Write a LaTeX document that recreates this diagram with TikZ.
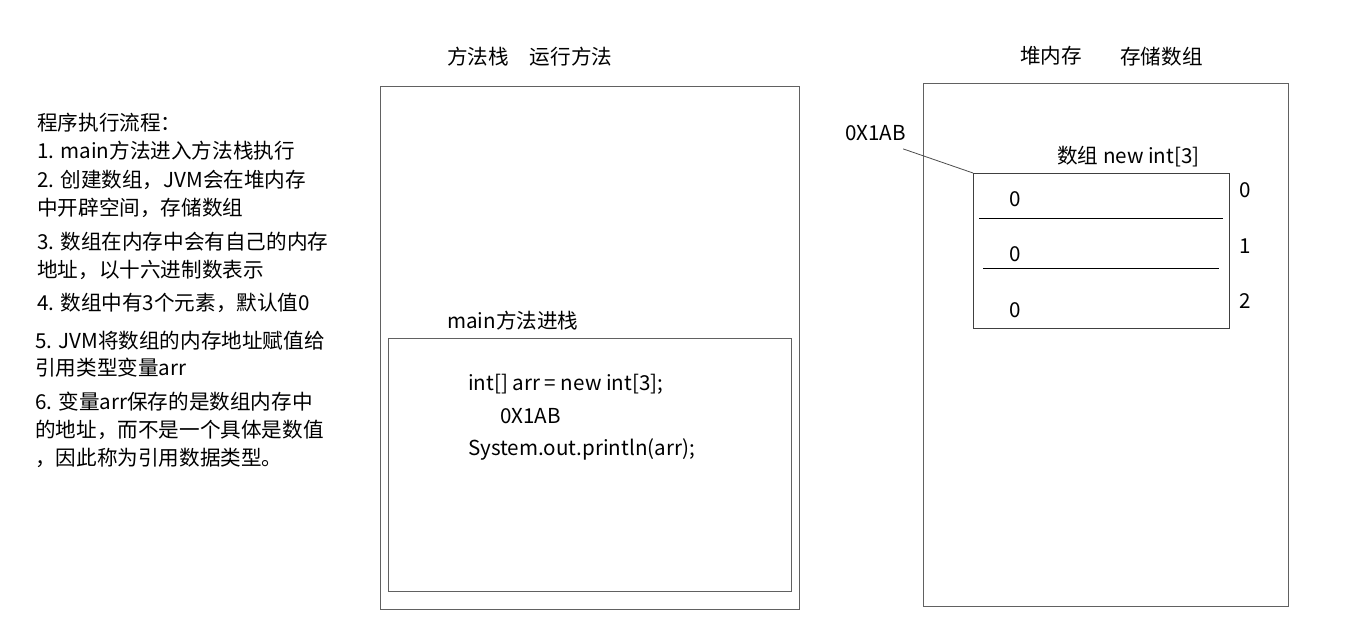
\documentclass[tikz,border=0pt]{standalone}
\usepackage{fontspec}
\setmainfont{Noto Sans CJK SC}
\begin{document}
\begin{tikzpicture}[x=1pt,y=-1pt,
    box/.style={draw=black!62,line width=1.3pt,inner sep=0pt,anchor=north west},
    txt/.style={font=\fontsize{20.6}{24}\selectfont,inner sep=0pt,text=black},
    note/.style={txt,anchor=west}
  ]
  \useasboundingbox (0,0) rectangle (1370,623);
  % notes on the left
  \node[note] (n0)  at (37,123) {程序执行流程：};
  \node[note] (n1)  at (37,151) {1. main方法进入方法栈执行};
  \node[note] (n2a) at (37,180) {2. 创建数组，JVM会在堆内存};
  \node[note] (n2b) at (37,208) {中开辟空间，存储数组};
  \node[note] (n3a) at (37,242) {3. 数组在内存中会有自己的内存};
  \node[note] (n3b) at (37,270) {地址，以十六进制数表示};
  \node[note] (n4)  at (37,303) {4. 数组中有3个元素，默认值0};
  \node[note] (n5a) at (35,341) {5. JVM将数组的内存地址赋值给};
  \node[note] (n5b) at (35,368) {引用类型变量arr};
  \node[note] (n6a) at (35,402) {6. 变量arr保存的是数组内存中};
  \node[note] (n6b) at (35,430) {的地址，而不是一个具体是数值};
  \node[note] (n6c) at (35,458) {，因此称为引用数据类型。};
  % method stack
  \node[txt,anchor=west] (stacktitle) at (447,57) {方法栈\hspace{21pt}运行方法};
  \node[box,minimum width=419pt,minimum height=523pt] (stack) at (380,86) {};
  \node[txt,anchor=west] (frametitle) at (447,321) {main方法进栈};
  \node[box,minimum width=403pt,minimum height=253pt] (frame) at (388,338) {};
  \node[txt,anchor=west] (code1) at (468,384) {int[] arr = new int[3];};
  \node[txt,anchor=west] (code2) at (500,416) {0X1AB};
  \node[txt,anchor=west] (code3) at (468,449) {System.out.println(arr);};
  % heap
  \node[txt,anchor=west] (heaptitle) at (1020,56) {堆内存};
  \node[txt,anchor=west] (heapnote) at (1120,57) {存储数组};
  \node[box,minimum width=365pt,minimum height=523pt] (heap) at (923,83) {};
  \node[txt,anchor=west] (addr) at (845,133) {0X1AB};
  \node[txt,anchor=west] (arrtitle) at (1057,157) {数组 new int[3]};
  \node[box,draw=black!75,minimum width=256pt,minimum height=155pt] (arr) at (973,173) {};
  \draw[line width=1pt] (979,218) -- (1223,218);
  \draw[line width=1pt] (983,268) -- (1219,268);
  \node[txt,anchor=west] (v0) at (1009,199) {0};
  \node[txt,anchor=west] (v1) at (1009,254) {0};
  \node[txt,anchor=west] (v2) at (1009,310) {0};
  \node[txt,anchor=west] (i0) at (1239,190) {0};
  \node[txt,anchor=west] (i1) at (1239,246) {1};
  \node[txt,anchor=west] (i2) at (1239,301) {2};
  \draw[black!70,line width=0.8pt] ([xshift=-3pt,yshift=-8pt]addr.south east) -- (arr.north west);
\end{tikzpicture}
\end{document}
